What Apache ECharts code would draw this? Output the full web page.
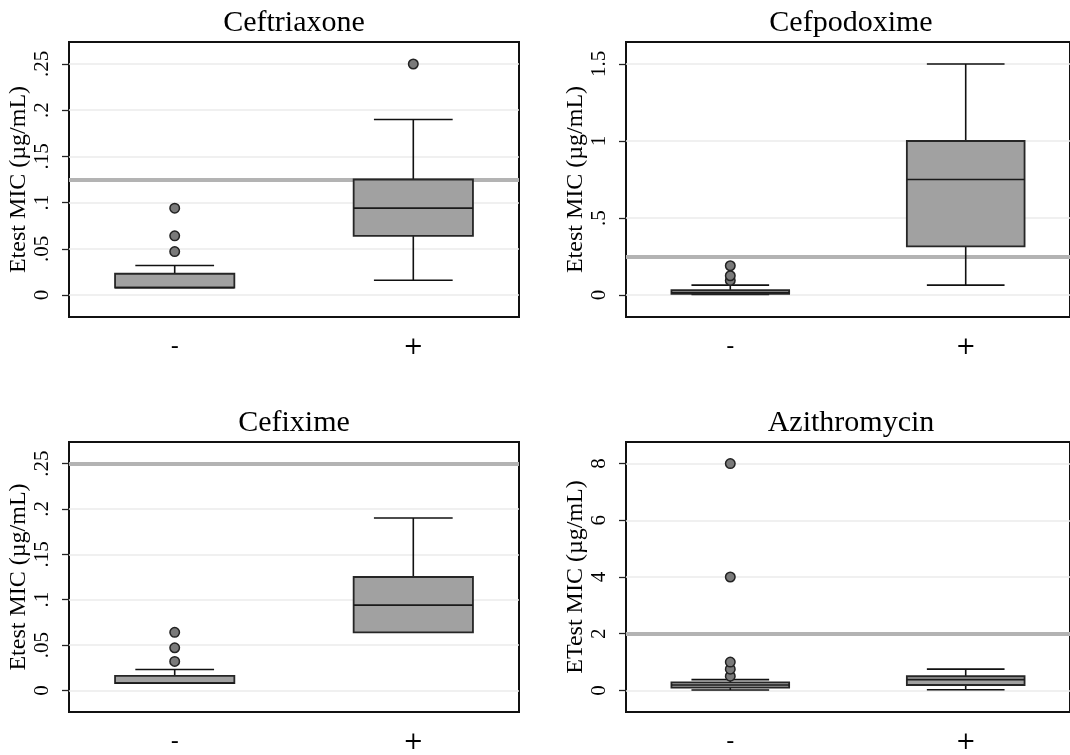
<!DOCTYPE html>
<html><head><meta charset="utf-8">
<script src="https://cdn.jsdelivr.net/npm/echarts@6/dist/echarts.min.js"></script>
<style>html,body{margin:0;padding:0;background:#fff}#chart{width:1070px;height:755px}</style>
</head><body><div id="chart"></div>
<script>
// ---------- data ----------
const categories = ['-', '+'];
const categoryPositions = [1, 2];
const panelTitles = ['Ceftriaxone', 'Cefpodoxime', 'Cefixime', 'Azithromycin'];
const yAxisTitles = ['Etest MIC (µg/mL)', 'Etest MIC (µg/mL)', 'Etest MIC (µg/mL)', 'ETest MIC (µg/mL)'];

// box stats per category: [lower whisker, q1, median, q3, upper whisker]
const ceftriaxoneBoxes = [[0.008, 0.008, 0.008, 0.023, 0.032], [0.016, 0.064, 0.094, 0.125, 0.19]];
const ceftriaxoneOutliers = [[0.047, 0.064, 0.094], [0.25]];
const ceftriaxoneBreakpoint = 0.125;
const ceftriaxoneTicks = [0, 0.05, 0.1, 0.15, 0.2, 0.25];
const ceftriaxoneTickLabels = ['0', '.05', '.1', '.15', '.2', '.25'];

const cefpodoximeBoxes = [[0.004, 0.008, 0.016, 0.032, 0.064], [0.064, 0.316, 0.75, 1.0, 1.5]];
const cefpodoximeOutliers = [[0.094, 0.125, 0.19], []];
const cefpodoximeBreakpoint = 0.25;
const cefpodoximeTicks = [0, 0.5, 1, 1.5];
const cefpodoximeTickLabels = ['0', '.5', '1', '1.5'];

const cefiximeBoxes = [[0.008, 0.008, 0.008, 0.016, 0.023], [0.064, 0.064, 0.094, 0.125, 0.19]];
const cefiximeOutliers = [[0.032, 0.047, 0.064], []];
const cefiximeBreakpoint = 0.25;
const cefiximeTicks = [0, 0.05, 0.1, 0.15, 0.2, 0.25];
const cefiximeTickLabels = ['0', '.05', '.1', '.15', '.2', '.25'];

const azithromycinBoxes = [[0.016, 0.1, 0.19, 0.28, 0.38], [0.023, 0.19, 0.38, 0.5, 0.75]];
const azithromycinOutliers = [[0.5, 0.75, 1, 4, 8], []];
const azithromycinBreakpoint = 2;
const azithromycinTicks = [0, 2, 4, 6, 8];
const azithromycinTickLabels = ['0', '2', '4', '6', '8'];

// ---------- layout / style ----------
const panels = [
  { boxes: ceftriaxoneBoxes, outliers: ceftriaxoneOutliers, bp: ceftriaxoneBreakpoint, ticks: ceftriaxoneTicks, labels: ceftriaxoneTickLabels },
  { boxes: cefpodoximeBoxes, outliers: cefpodoximeOutliers, bp: cefpodoximeBreakpoint, ticks: cefpodoximeTicks, labels: cefpodoximeTickLabels },
  { boxes: cefiximeBoxes, outliers: cefiximeOutliers, bp: cefiximeBreakpoint, ticks: cefiximeTicks, labels: cefiximeTickLabels },
  { boxes: azithromycinBoxes, outliers: azithromycinOutliers, bp: azithromycinBreakpoint, ticks: azithromycinTicks, labels: azithromycinTickLabels }
];
const gridPos = [[69, 42], [626, 42], [69, 442], [626, 442]];
const GRID_W = 450, GRID_H = 275;
const BOX_WIDTH = 0.5;
const SERIF = '"Liberation Serif", "Times New Roman", serif';

function renderBox(params, api) {
  const x = api.value(0);
  const lo = api.value(1), q1 = api.value(2), med = api.value(3), q3 = api.value(4), hi = api.value(5);
  const pLo = api.coord([x, lo]), pQ1 = api.coord([x, q1]), pMed = api.coord([x, med]);
  const pQ3 = api.coord([x, q3]), pHi = api.coord([x, hi]);
  const bw = api.size([BOX_WIDTH, 0])[0];
  const cw = bw * 0.66;
  const cx = pQ1[0];
  const ls = { stroke: '#111', lineWidth: 1.6 };
  const children = [];
  if (hi > q3) {
    children.push({ type: 'line', shape: { x1: cx, y1: pQ3[1], x2: cx, y2: pHi[1] }, style: ls });
    children.push({ type: 'line', shape: { x1: cx - cw / 2, y1: pHi[1], x2: cx + cw / 2, y2: pHi[1] }, style: ls });
  }
  if (lo < q1) {
    children.push({ type: 'line', shape: { x1: cx, y1: pQ1[1], x2: cx, y2: pLo[1] }, style: ls });
    children.push({ type: 'line', shape: { x1: cx - cw / 2, y1: pLo[1], x2: cx + cw / 2, y2: pLo[1] }, style: ls });
  }
  children.push({ type: 'rect', shape: { x: cx - bw / 2, y: pQ3[1], width: bw, height: pQ1[1] - pQ3[1] },
    style: { fill: '#a1a1a1', stroke: '#262626', lineWidth: 1.8 } });
  children.push({ type: 'line', shape: { x1: cx - bw / 2, y1: pMed[1], x2: cx + bw / 2, y2: pMed[1] },
    style: { stroke: '#1a1a1a', lineWidth: 1.6 } });
  return { type: 'group', children };
}

const grids = [], xAxes = [], yAxes = [], series = [], graphics = [];
panels.forEach((p, i) => {
  const top = p.ticks[p.ticks.length - 1];
  const pad = top * 0.0952;
  grids.push({ left: gridPos[i][0], top: gridPos[i][1], width: GRID_W, height: GRID_H,
    show: true, borderColor: '#111', borderWidth: 2, backgroundColor: 'transparent', containLabel: false });
  xAxes.push({ type: 'value', gridIndex: i, min: 0.557, max: 2.443,
    axisLine: { show: false }, axisTick: { show: false }, splitLine: { show: false },
    axisLabel: { customValues: categoryPositions, margin: 19, color: '#000',
      fontFamily: '"DejaVu Serif", serif', fontSize: 24,
      formatter: v => categories[categoryPositions.indexOf(Math.round(v))] || '' } });
  yAxes.push({ type: 'value', gridIndex: i, min: -pad, max: top + pad,
    axisLine: { show: false },
    axisTick: { show: true, length: 7, customValues: p.ticks, lineStyle: { color: '#222', width: 1.3 } },
    axisLabel: { customValues: p.ticks, rotate: 90, margin: 16, color: '#000', fontFamily: SERIF, fontSize: 21,
      formatter: v => { const k = p.ticks.findIndex(t => Math.abs(t - v) < 1e-9); return k >= 0 ? p.labels[k] : ''; } },
    splitLine: { show: true, lineStyle: { color: '#ebebeb', width: 1.5 } },
    name: yAxisTitles[i], nameLocation: 'middle', nameRotate: 90, nameGap: 38,
    nameTextStyle: { fontFamily: SERIF, fontSize: 24, color: '#000' } });
  const boxData = p.boxes.map((b, k) => [categoryPositions[k]].concat(b));
  series.push({ type: 'line', xAxisIndex: i, yAxisIndex: i, data: [], silent: true,
    markLine: { silent: true, z: 1, symbol: 'none', precision: 6, label: { show: false },
      lineStyle: { color: '#b3b3b3', width: 4, type: 'solid' }, emphasis: { disabled: true },
      data: [{ yAxis: p.bp }] } });
  series.push({ type: 'custom', xAxisIndex: i, yAxisIndex: i, z: 10, renderItem: renderBox,
    encode: { x: 0, y: [1, 2, 3, 4, 5] }, data: boxData, silent: true });
  const outData = [];
  p.outliers.forEach((arr, k) => arr.forEach(v => outData.push([categoryPositions[k], v])));
  series.push({ type: 'scatter', xAxisIndex: i, yAxisIndex: i, z: 11, data: outData, symbol: 'circle', symbolSize: 9.5,
    itemStyle: { color: '#7a7a7a', borderColor: '#222', borderWidth: 1.5, opacity: 1 }, silent: true });
  graphics.push({ type: 'text', x: gridPos[i][0] + GRID_W / 2, y: gridPos[i][1] - 18.5,
    style: { text: panelTitles[i], fill: '#000', font: '30px ' + SERIF, align: 'center', verticalAlign: 'middle' } });
});

const chart = echarts.init(document.getElementById('chart'), null, { renderer: 'canvas' });
chart.setOption({
  animation: false,
  backgroundColor: '#fff',
  grid: grids, xAxis: xAxes, yAxis: yAxes, series: series, graphic: graphics
});
</script></body></html>
